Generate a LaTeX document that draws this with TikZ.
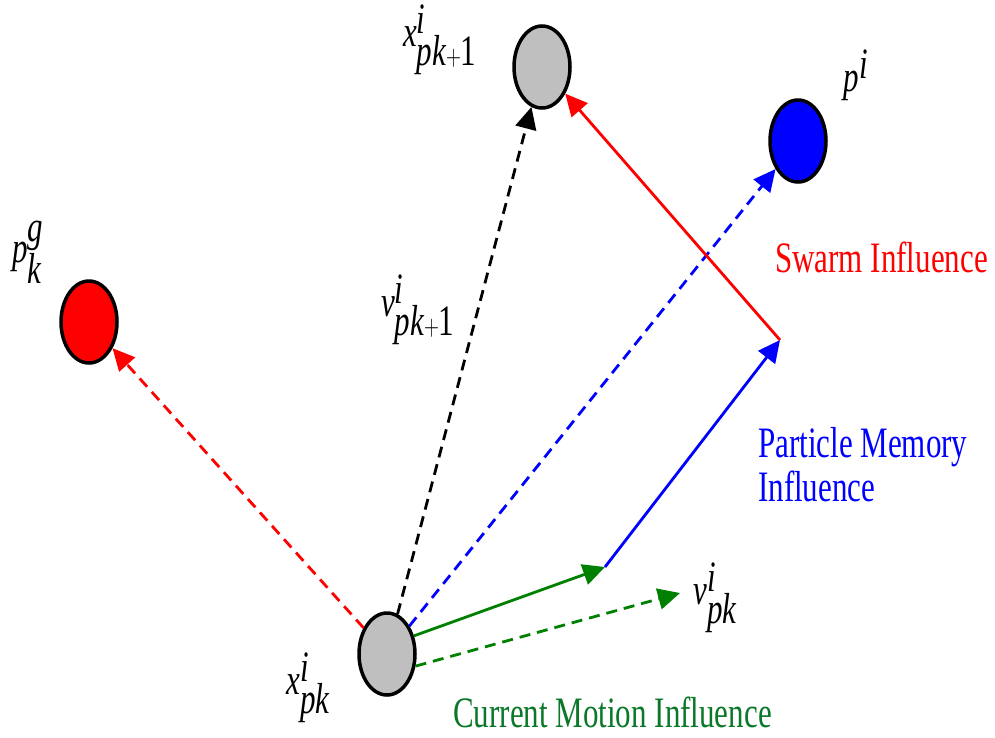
\documentclass[tikz,border=0pt]{standalone}
\usepackage{fontspec}
\setmainfont{Liberation Serif}
\usepackage{graphicx}
\usetikzlibrary{shapes.geometric,arrows.meta}

\definecolor{motiongreen}{RGB}{0,128,0}
\definecolor{labelgreen}{RGB}{10,120,40}
\newcommand{\tall}[1]{\scalebox{1}[1.4]{#1}}
\newcommand{\mv}[1]{\textit{#1}}

\tikzset{
  particle/.style={ellipse, draw, line width=3.5pt, minimum width=56pt, minimum height=82pt, inner sep=0pt},
  vec/.style={line width=2.8pt, -{Triangle[length=22pt,width=21pt]}},
  dashvec/.style={vec, dash pattern=on 11pt off 7pt},
  lbl/.style={font=\fontsize{31}{44}\selectfont, inner sep=0pt}
}

\begin{document}
\begin{tikzpicture}[x=1pt,y=-1pt]
  \useasboundingbox (0,0) rectangle (995,737);
  % particles
  \node[particle, fill=gray!50] (xpk) at (387,654) {};
  \node[particle, fill=red] (gbest) at (89,322) {};
  \node[particle, fill=gray!50] (xnext) at (542,67) {};
  \node[particle, fill=blue] (pbest) at (798,141) {};
  \coordinate (inertia) at (605,567);
  \coordinate (memory) at (780,340);
  \coordinate (vtip) at (680,593);

  % velocity components
  \draw[dashvec, red] (xpk) -- (gbest);
  \draw[dashvec, black] (xpk) -- (xnext);
  \draw[dashvec, blue] (xpk) -- (pbest);
  \draw[vec, motiongreen] (xpk.34) -- (inertia);
  \draw[vec, blue] (inertia) -- (memory);
  \draw[vec, red] (memory) -- (xnext);
  \draw[dashvec, motiongreen] (xpk.-23) -- (vtip);

  % labels
  \node[lbl] (xpklbl) at (308,688) {\tall{$\mv{x}^{\mv{i}}_{\mv{pk}}$}};
  \node[lbl] (gbestlbl) at (28,252) {\tall{$\mv{p}^{\mv{g}}_{\mv{k}}$}};
  \node[lbl] (xnextlbl) at (440,40) {\tall{$\mv{x}^{\mv{i}}_{\mv{pk}\mathit{+}\textrm{1}}$}};
  \node[lbl] (pbestlbl) at (856,75) {\tall{$\mv{p}^{\mv{i}}$}};
  \node[lbl] (vnextlbl) at (418,310) {\tall{$\mv{v}^{\mv{i}}_{\mv{pk}+\textrm{1}}$}};
  \node[lbl] (vpklbl) at (715,598) {\tall{$\mv{v}^{\mv{i}}_{\mv{pk}}$}};
  \node[lbl, red, anchor=west] (swarm) at (775,257) {\tall{Swarm Influence}};
  \node[lbl, blue, anchor=north west, align=left] (memlbl) at (758,427) {\tall{Particle Memory}\\\tall{Influence}};
  \node[lbl, labelgreen, anchor=west] (motion) at (453,712) {\tall{Current Motion Influence}};
\end{tikzpicture}
\end{document}
